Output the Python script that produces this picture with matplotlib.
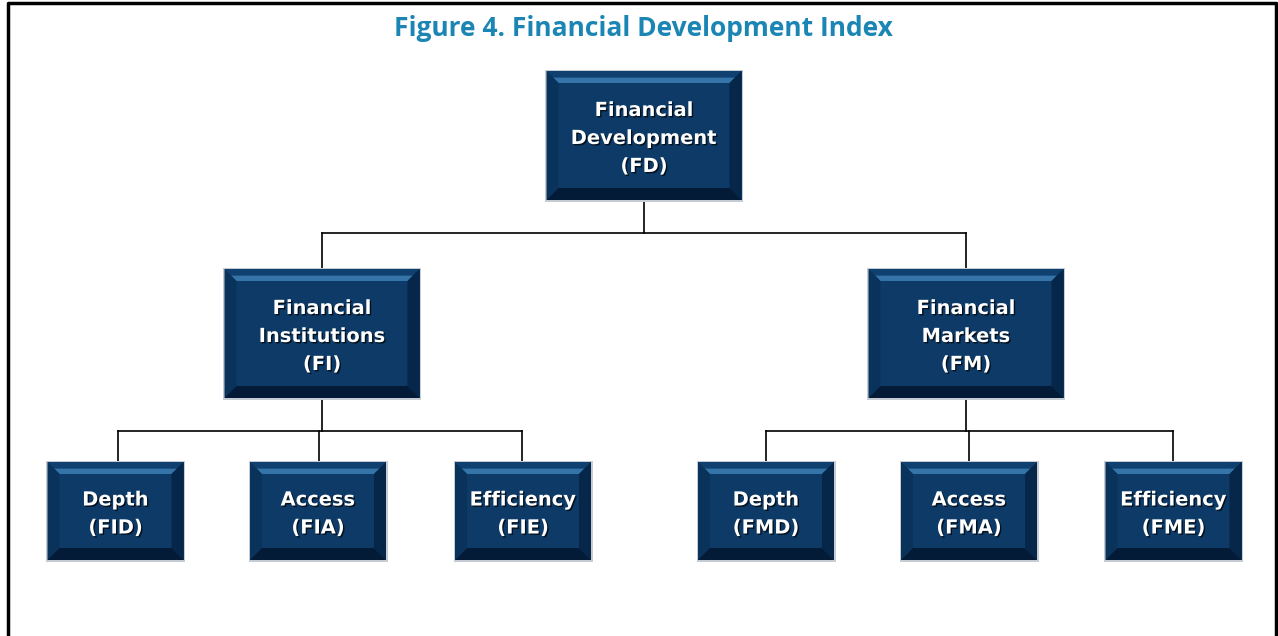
import matplotlib.pyplot as plt
from matplotlib.patches import Polygon, Rectangle
import matplotlib.patheffects as pe

# Libellés de l'organigramme
title = 'Figure 4. Financial Development Index'
root = 'Financial\nDevelopment\n(FD)'
branches = ['Financial\nInstitutions\n(FI)', 'Financial\nMarkets\n(FM)']
leaves = [['Depth\n(FID)', 'Access\n(FIA)', 'Efficiency\n(FIE)'],
          ['Depth\n(FMD)', 'Access\n(FMA)', 'Efficiency\n(FME)']]

W, H = 1278, 636
fig = plt.figure(figsize=(W / 100, H / 100), dpi=100)
ax = fig.add_axes([0, 0, 1, 1])
ax.set_xlim(0, W)
ax.set_ylim(H, 0)
ax.axis('off')

# cadre (sans bas)
ax.plot([8, 8, 1276, 1276], [H, 3, 3, H], color='black', lw=2.5, solid_capstyle='butt')

ax.text(643, 28, title, ha='center', va='center', fontsize=19, fontweight='bold',
        color='#1b86b4', family=['Open Sans', 'DejaVu Sans'])


def box(cx, top, w, h, label, b=12):
    x0, x1 = cx - w / 2, cx + w / 2
    y0, y1 = top, top + h
    ax.add_patch(Rectangle((x0 - 1.5, y0 - 1.5), w + 3, h + 3, facecolor='#c5ccd4', edgecolor='none', zorder=2))
    ax.add_patch(Rectangle((x0, y0), w, h, facecolor='#0d3a66', edgecolor='none', zorder=3))
    # biseaux
    ax.add_patch(Polygon([(x0, y0), (x1, y0), (x1 - b, y0 + b), (x0 + b, y0 + b)],
                         facecolor='#0f4070', edgecolor='none', zorder=4))
    ax.add_patch(Polygon([(x0 + b * 0.55, y0 + b * 0.55), (x1 - b * 0.55, y0 + b * 0.55), (x1 - b, y0 + b), (x0 + b, y0 + b)],
                         facecolor='#3474a8', edgecolor='none', zorder=4))
    ax.add_patch(Polygon([(x0, y0), (x0 + b, y0 + b), (x0 + b, y1 - b), (x0, y1)],
                         facecolor='#0a335c', edgecolor='none', zorder=4))
    ax.add_patch(Polygon([(x1, y0), (x1, y1), (x1 - b, y1 - b), (x1 - b, y0 + b)],
                         facecolor='#06264a', edgecolor='none', zorder=4))
    ax.add_patch(Polygon([(x0, y1), (x1, y1), (x1 - b, y1 - b), (x0 + b, y1 - b)],
                         facecolor='#031b36', edgecolor='none', zorder=4))
    ax.text(cx, (y0 + y1) / 2 + 3, label, ha='center', va='center', color='white',
            fontsize=14, fontweight='bold', linespacing=1.6, zorder=5,
            path_effects=[pe.withSimplePatchShadow(offset=(1, -1), shadow_rgbFace='black', alpha=0.7)])


def connect(px, pbottom, ymid, children_x, ctop):
    ax.plot([px, px], [pbottom, ymid], color='black', lw=1.2, zorder=1)
    ax.plot([min(children_x), max(children_x)], [ymid, ymid], color='black', lw=1.2, zorder=1)
    for c in children_x:
        ax.plot([c, c], [ymid, ctop], color='black', lw=1.2, zorder=1)


root_x = 644
branch_x = [322, 966]
leaf_x = [[118, 319, 522], [766, 969, 1173]]
leaf_box_x = [[115.5, 318, 523], [766, 969, 1173.5]]

connect(root_x, 200, 233, branch_x, 269)
for i in range(2):
    connect(branch_x[i], 398, 431, leaf_x[i], 462)

box(root_x, 71, 195, 129, root)
for i in range(2):
    box(branch_x[i], 269, 195, 129, branches[i])
    for j in range(3):
        box(leaf_box_x[i][j], 462, 136, 98, leaves[i][j])

plt.savefig('out.png', dpi=100)
plt.close()
